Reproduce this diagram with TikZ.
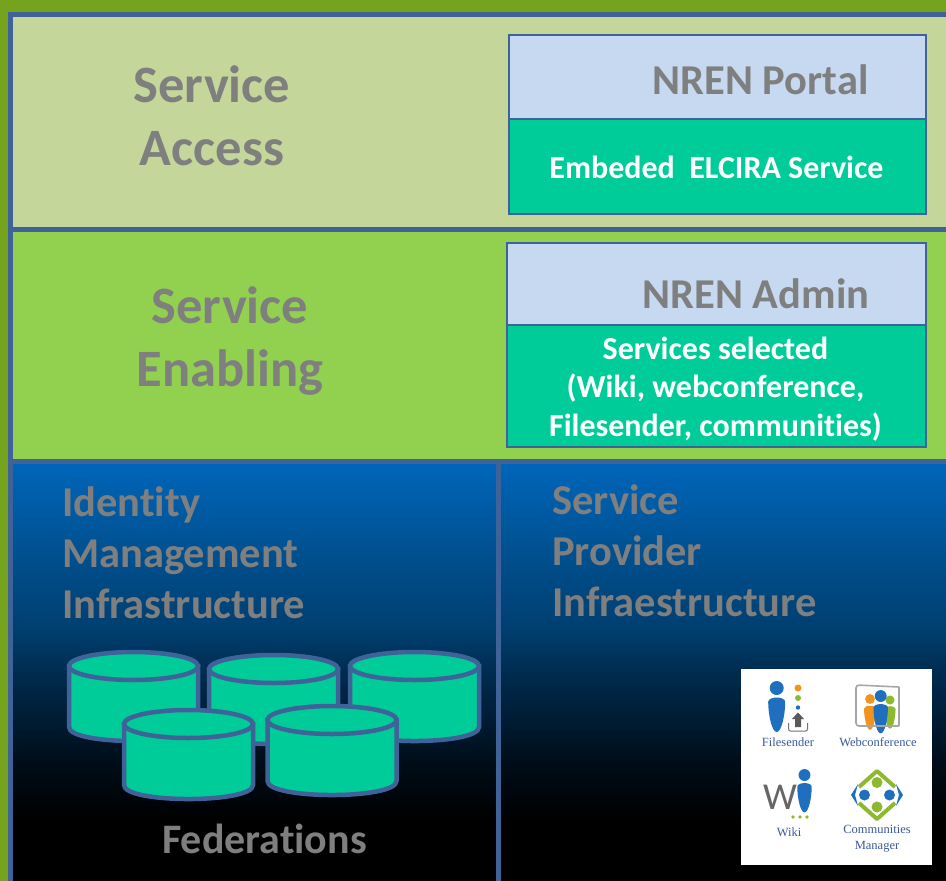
\documentclass[tikz,border=0pt]{standalone}
\usepackage{fontspec}
\setmainfont[Ligatures=CommonOff]{Carlito}
\newfontfamily\iconfont{Liberation Serif}
\definecolor{outergreen}{HTML}{76A31E}
\definecolor{frameblue}{HTML}{3F6298}
\definecolor{accesspanel}{HTML}{C5D69B}
\definecolor{enablingpanel}{HTML}{92D050}
\definecolor{headbox}{HTML}{C6D9F1}
\definecolor{servicebox}{HTML}{00CC99}
\definecolor{labelgrey}{HTML}{7F7F7F}
\definecolor{iconblue}{HTML}{1F6FBE}
\definecolor{icongreen}{HTML}{8DB92E}
\definecolor{iconorange}{HTML}{F0941E}
\definecolor{icontext}{HTML}{3B5A9A}
\definecolor{infratop}{HTML}{0066BB}
\definecolor{infrahigh}{HTML}{00508F}
\definecolor{infraupper}{HTML}{003F70}
\definecolor{infralow}{HTML}{002C50}
\definecolor{infradeep}{HTML}{000D18}
\pgfdeclareverticalshading{infrashade}{100bp}{color(0bp)=(black); color(25bp)=(black); color(32bp)=(black); color(39bp)=(infradeep); color(50bp)=(infralow); color(55bp)=(infraupper); color(64bp)=(infrahigh); color(75bp)=(infratop); color(100bp)=(infratop)}
\tikzset{
    panelframe/.style = {draw = frameblue, line width = 5pt},
    boxframe/.style = {draw = frameblue, line width = 2.5pt},
    biglabel/.style = {text = labelgrey, font = \bfseries\fontsize{52.5}{63}\selectfont, align = center, inner sep = 0pt},
    boxlabel/.style = {text = labelgrey, font = \bfseries\fontsize{42.5}{42.5}\selectfont, inner sep = 0pt},
    infralabel/.style = {text = labelgrey, font = \bfseries\fontsize{42.5}{51}\selectfont, align = left, inner sep = 0pt},
    whitelabel/.style = {text = white, font = \bfseries\fontsize{32}{38.5}\selectfont, align = center, inner sep = 0pt},
    iconlabel/.style = {text = icontext, font = \iconfont\fontsize{12.5}{16}\selectfont, align = center, inner sep = 0pt},
    federation/.style = {draw = frameblue, line width = 4.5pt, fill = servicebox}
}
\begin{document}
\begin{tikzpicture}[x = 1pt, y = -1pt]
    \useasboundingbox (0, 0) rectangle (946, 881);
    \fill [outergreen] (0, 0) rectangle (946, 881);

    % layers
    \fill [accesspanel] (10, 14) rectangle (946, 229);
    \fill [enablingpanel] (10, 229) rectangle (946, 461);
    \shade [shading = infrashade] (10, 461) rectangle (946, 881);
    \draw [panelframe] (946, 14) -- (10, 14) -- (10, 881);
    \draw [panelframe] (10, 229) -- (946, 229);
    \draw [panelframe] (10, 461) -- (946, 461);
    \draw [panelframe] (498, 461) -- (498, 881);

    % boxes of the two upper layers
    \draw [boxframe, fill = headbox] (509, 35) rectangle (926, 119);
    \draw [boxframe, fill = servicebox] (509, 119) rectangle (926, 214);
    \draw [boxframe, fill = headbox] (507, 243) rectangle (926, 325);
    \draw [boxframe, fill = servicebox] (507, 325) rectangle (926, 447);

    \node [biglabel] (access) at (212, 115.5) {Service\\Access};
    \node [biglabel] (enabling) at (230, 341) {Service\\Enabling};
    \node [boxlabel, anchor = base] (portal) at (760.5, 94) {NREN Portal};
    \node [boxlabel, anchor = base] (admin) at (756, 308) {NREN Admin};
    \node [whitelabel, anchor = base] (embeded) at (716.5, 178) {Embeded\ \ ELCIRA Service};
    \node [whitelabel] (selected) at (715.5, 389) {Services selected\\(Wiki, webconference,\\Filesender, communities)};

    \node [infralabel, anchor = west] (identity) at (62, 552.5) {Identity\\Management\\Infrastructure};
    \node [infralabel, anchor = west] (provider) at (552, 550.5) {Service\\Provider\\Infraestructure};

    % federations
    \foreach \cx/\cy in {133.5/666, 273.5/669, 414.5/666, 188.5/724, 332/720} {
        \draw [federation] (\cx - 64.5, \cy) -- (\cx - 64.5, \cy + 61)
            .. controls (\cx - 64.5, \cy + 79.7) and (\cx + 64.5, \cy + 79.7) .. (\cx + 64.5, \cy + 61)
            -- (\cx + 64.5, \cy) -- cycle;
        \draw [federation] (\cx, \cy) ellipse [x radius = 64.5, y radius = 14];
    }
    \node [biglabel, font = \bfseries\fontsize{42}{42}\selectfont, anchor = base] (federations) at (264.5, 853) {Federations};

    % service icons
    \fill [white] (741, 669) rectangle (932, 865);

    \foreach \px/\py/\ps/\pc in {776.7/688/1/iconblue, 870/699/.7/iconorange, 890/700/.65/icongreen, 880.7/696/.85/iconblue, 804.5/775/.85/iconblue} {
        \fill [\pc] (\px, \py) circle [radius = 7 * \ps];
        \fill [\pc] (\px - 8.5 * \ps, \py + 14 * \ps)
            .. controls (\px - 8.5 * \ps, \py + 8 * \ps) and (\px + 8.5 * \ps, \py + 8 * \ps) .. (\px + 8.5 * \ps, \py + 14 * \ps)
            .. controls (\px + 8.5 * \ps, \py + 26 * \ps) and (\px + 5 * \ps, \py + 44 * \ps) .. (\px, \py + 44 * \ps)
            .. controls (\px - 5 * \ps, \py + 44 * \ps) and (\px - 8.5 * \ps, \py + 26 * \ps) .. (\px - 8.5 * \ps, \py + 14 * \ps);
    }

    % filesender
    \fill [iconorange] (798, 688) circle [radius = 3.5];
    \fill [icongreen] (798, 698) circle [radius = 3];
    \fill [iconblue] (798, 707.5) circle [radius = 2.2];
    \fill [black!65] (798, 712.5) -- (804, 719) -- (801, 719) -- (801, 727) -- (795, 727) -- (795, 719) -- (792, 719) -- cycle;
    \draw [black!55, line width = 1pt, rounded corners = 2pt] (788.5, 723) -- (788.5, 731) -- (807.5, 731) -- (807.5, 723);
    \node [iconlabel] (filesender) at (788, 742.5) {Filesender};

    % webconference
    \draw [black!35, line width = 1.6pt, rounded corners = 3pt] (899, 687) -- (856, 685) -- (856, 726) -- (899, 726);
    \draw [black!35, line width = 1.6pt] (899, 687) -- (899, 726);
    \node [iconlabel] (webconference) at (878, 742.5) {Webconference};

    % wiki
    \node [text = black!60, font = \fontsize{38}{38}\selectfont, inner sep = 0pt] (wikiw) at (780, 797) {W};
    \foreach \dx in {793, 800, 807} {
        \fill [icongreen] (\dx, 817) circle [radius = 1.8];
    }
    \node [iconlabel] (wiki) at (789, 832) {Wiki};

    % communities
    \draw [icongreen, line width = 4pt, line join = round] (859, 787) -- (877, 771) -- (895, 787);
    \draw [icongreen, line width = 4pt, line join = round] (859, 803) -- (877, 819) -- (895, 803);
    \fill [iconblue] (858, 784) -- (851, 795) -- (858, 806) -- (855, 795) -- cycle;
    \fill [iconblue] (896, 784) -- (903, 795) -- (896, 806) -- (899, 795) -- cycle;
    \fill [icongreen] (877, 782.5) circle [radius = 5.5];
    \fill [icongreen] (877, 807) circle [radius = 5.5];
    \fill [iconblue] (864.5, 795) circle [radius = 5.5];
    \fill [iconblue] (889.5, 795) circle [radius = 5.5];
    \node [iconlabel] (communities) at (877, 839) {Communities\\Manager};
\end{tikzpicture}
\end{document}
